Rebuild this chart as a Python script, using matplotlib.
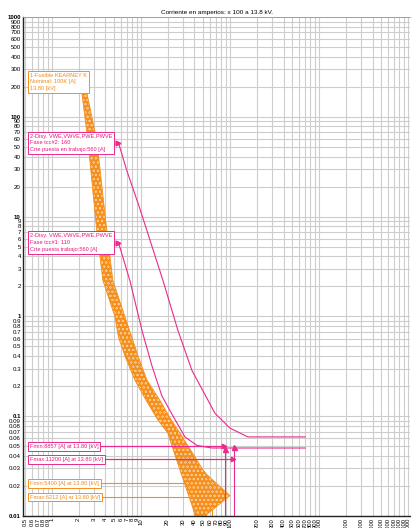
import matplotlib
matplotlib.use("Agg")
import matplotlib.pyplot as plt
import numpy as np

plt.rcParams['font.family'] = ['Liberation Sans', 'DejaVu Sans']
plt.rcParams['hatch.linewidth'] = 0.35

# ---------------- data (current in A x100 at 13.8 kV, time in s) ----------------
title = "Corriente en amperios: x 100 a 13.8 kV."

x_ticks = [0.5, 0.6, 0.7, 0.8, 0.9,
           1, 2, 3, 4, 5, 6, 7, 8, 9,
           10, 20, 30, 40, 50, 60, 70, 80, 90,
           100, 200, 300, 400, 500, 600, 700, 800, 900,
           1000, 2000, 3000, 4000, 5000, 6000, 7000, 8000, 9000, 10000]
y_ticks = [0.01, 0.02, 0.03, 0.04, 0.05, 0.06, 0.07, 0.08, 0.09,
           0.1, 0.2, 0.3, 0.4, 0.5, 0.6, 0.7, 0.8, 0.9,
           1, 2, 3, 4, 5, 6, 7, 8, 9,
           10, 20, 30, 40, 50, 60, 70, 80, 90,
           100, 200, 300, 400, 500, 600, 700, 800, 900, 1000]

# Fuse KEARNEY K 100K : minimum melt (left edge) and total clearing (right edge)
fuse_min_I = [2.17, 2.54, 3.2, 3.74, 5.1, 5.6, 6.7, 8.56, 11.4, 15.6, 20.0, 27.4, 38.4, 40.4]
fuse_min_t = [175, 57.5, 7.2, 2.3, 1.0, 0.62, 0.39, 0.23, 0.145, 0.091, 0.068, 0.029, 0.012, 0.01]
fuse_max_I = [2.47, 3.2, 4.15, 4.84, 6.6, 7.9, 9.4, 11.7, 16.3, 22.0, 27.4, 49.8, 55.1, 100, 52.4]
fuse_max_t = [175, 57.5, 7.2, 2.3, 1.0, 0.62, 0.39, 0.23, 0.145, 0.091, 0.068, 0.029, 0.026, 0.016, 0.01]

# Relay phase curves
relA_I = [5.6, 6.96, 9.74, 17.7, 26.1, 37.4, 56.6, 67.8, 100, 159, 700]
relA_t = [55, 28.8, 12.0, 2.29, 0.72, 0.288, 0.145, 0.107, 0.076, 0.062, 0.062]
relB_I = [5.6, 7.52, 10.3, 13.3, 17.2, 22.3, 31.2, 42.6, 62.7, 700]
relB_t = [5.5, 2.29, 0.72, 0.32, 0.16, 0.105, 0.062, 0.051, 0.048, 0.048]

# Fault currents (x100 A), time of the horizontal marker line, top of vertical line
pink_fault_I = [88.57, 112.0]
pink_fault_th = [0.05, 0.037]
pink_fault_tv = [0.047, 0.049]
pink_fault_lbl = ["Fmin:8857 [A] at 13.80 [kV]", "Fmax:11200 [A] at 13.80 [kV]"]
orange_fault_I = [54.0, 62.12]
orange_fault_th = [0.0214, 0.0155]
orange_fault_lbl = ["Fmin:5400 [A] at 13.80 [kV]", "Fmax:6212 [A] at 13.80 [kV]"]

fuse_label = "1-Fusible KEARNEY K\nNominal: 100K [A]\n13.80 [kV]"
relA_label = "2-Disy. VWE,VWVE,PWE,PWVE\nFase tcc#2: 160\nCrte puesta en trabajo:560 [A]"
relB_label = "2-Disy. VWE,VWVE,PWE,PWVE\nFase tcc#1: 110\nCrte puesta trabajo:560 [A]"

# ---------------- styling ----------------
ORANGE = '#f58f1c'
ORANGE_TXT = '#f08a1c'
PINK = '#ea2a8c'
PINK_TXT = '#e8157f'
GRID = '#cdcdcd'

W, H = 411, 528
fig = plt.figure(figsize=(W / 100, H / 100), dpi=100)
ax = fig.add_axes([23 / W, 12 / H, (410 - 23) / W, (516 - 17) / H])
ax.set_xscale('log')
ax.set_yscale('log')
ax.set_xlim(0.4745, 10520)
ax.set_ylim(0.01, 1000)

for v in x_ticks:
    ax.axvline(v, color=GRID, lw=0.8, zorder=0)
for v in y_ticks:
    ax.axhline(v, color=GRID, lw=0.8, zorder=0)

ax.set_xticks(x_ticks)
ax.set_xticklabels([f"{v:g}" for v in x_ticks], rotation=90, fontsize=4.2)
ax.set_yticks(y_ticks)
ax.set_yticklabels([f"{v:g}" for v in y_ticks], fontsize=4.4)
ax.xaxis.set_minor_locator(matplotlib.ticker.NullLocator())
ax.yaxis.set_minor_locator(matplotlib.ticker.NullLocator())
ax.tick_params(axis='both', length=0, pad=1.5)
for lbl in ax.get_yticklabels():
    if lbl.get_text() in ("0.01", "0.1", "1", "10", "100", "1000"):
        lbl.set_fontweight('bold')

ax.spines['left'].set_color('#222222')
ax.spines['bottom'].set_color('#222222')
ax.spines['left'].set_linewidth(1.0)
ax.spines['bottom'].set_linewidth(1.0)
ax.spines['top'].set_color('#999999')
ax.spines['top'].set_linewidth(0.6)
ax.spines['right'].set_visible(False)

ax.set_title(title, fontsize=4.6, pad=2.5)

# Fuse band
band_I = list(fuse_min_I) + list(fuse_max_I[::-1])
band_t = list(fuse_min_t) + list(fuse_max_t[::-1])
ax.fill(band_I, band_t, facecolor=ORANGE, edgecolor='#fcc890', hatch='oooo',
        linewidth=0, zorder=2)
ax.plot(fuse_min_I, fuse_min_t, color=ORANGE, lw=0.6, zorder=2)
ax.plot(fuse_max_I, fuse_max_t, color=ORANGE, lw=0.6, zorder=2)

# Relay curves
ax.plot(relA_I, relA_t, color=PINK, lw=0.8, zorder=3)
ax.plot(relB_I, relB_t, color=PINK, lw=0.8, zorder=3)
ax.plot([relA_I[0]], [relA_t[0]], marker='>', color=PINK, ms=3.5, zorder=4)
ax.plot([relB_I[0]], [relB_t[0]], marker='>', color=PINK, ms=3.5, zorder=4)

LBL_X = 0.566
FS = 4.1
box_kw = dict(boxstyle='square,pad=0.35', fc='white', lw=0.7)

# Fault lines - pink
for I, th, tv, lbl in zip(pink_fault_I, pink_fault_th, pink_fault_tv, pink_fault_lbl):
    ax.plot([LBL_X, I * 0.97], [th, th], color=PINK, lw=0.9, zorder=3)
    ax.plot([I, I], [0.01, tv], color=PINK, lw=0.8, zorder=3)
    ax.plot([I * 0.97], [th], marker='>', color=PINK, ms=3.2, zorder=4)
    ax.plot([I], [tv], marker='^', color=PINK, ms=3.6, zorder=4)
    ax.text(LBL_X, th, lbl, fontsize=FS, color=PINK_TXT, ha='left', va='center',
            bbox=dict(ec=PINK, **box_kw), zorder=6)

# Fault lines - orange
for I, th, lbl in zip(orange_fault_I, orange_fault_th, orange_fault_lbl):
    ax.plot([LBL_X, I], [th, th], color=ORANGE, lw=0.8, zorder=1.5)
    ax.plot([I, I], [0.01, th], color=ORANGE, lw=0.8, zorder=1.5)
    ax.text(LBL_X, th, lbl, fontsize=FS, color=ORANGE_TXT, ha='left', va='center',
            bbox=dict(ec=ORANGE, **box_kw), zorder=6)

# Curve labels
ax.text(LBL_X, 224, fuse_label, fontsize=FS, color=ORANGE_TXT, ha='left', va='center',
        linespacing=1.4, bbox=dict(ec=ORANGE, **box_kw), zorder=6)
ax.text(LBL_X, relA_t[0], relA_label, fontsize=FS, color=PINK_TXT, ha='left', va='center',
        linespacing=1.4, bbox=dict(ec=PINK, **box_kw), zorder=6)
ax.text(LBL_X, relB_t[0], relB_label, fontsize=FS, color=PINK_TXT, ha='left', va='center',
        linespacing=1.4, bbox=dict(ec=PINK, **box_kw), zorder=6)

fig.savefig('out.png', dpi=100, facecolor='white')
